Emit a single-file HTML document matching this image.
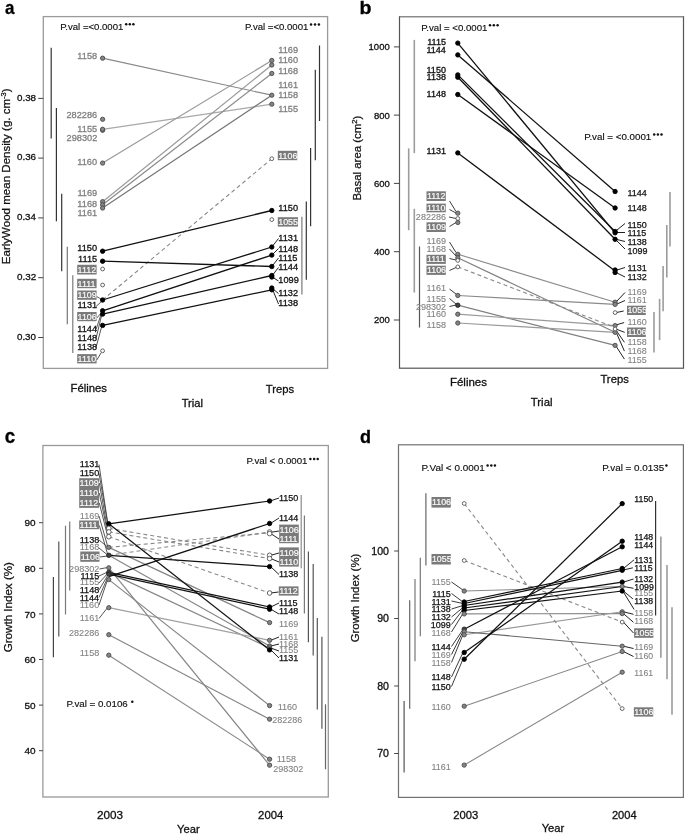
<!DOCTYPE html>
<html><head><meta charset="utf-8"><style>
html,body{margin:0;padding:0;background:#fff;}
svg{display:block;font-family:"Liberation Sans",sans-serif;will-change:transform;}
</style></head><body>
<svg width="685" height="834" viewBox="0 0 685 834">
<rect width="685" height="834" fill="#fff"/>
<text x="4.89" y="13.70" font-size="19" fill="#000" stroke="#000" stroke-width="0.3" font-weight="bold" textLength="9.46" lengthAdjust="spacingAndGlyphs">a</text>
<rect x="43.30" y="16.60" width="284.30" height="351.80" fill="none" stroke="#9a9a9a" stroke-width="1.3"/>
<line x1="38.20" y1="98.40" x2="43.30" y2="98.40" stroke="#444" stroke-width="1.0"/>
<text x="16.96" y="100.70" font-size="9.6" fill="#111" stroke="#111" stroke-width="0.3" textLength="19.10" lengthAdjust="spacingAndGlyphs">0.38</text>
<line x1="38.20" y1="158.10" x2="43.30" y2="158.10" stroke="#444" stroke-width="1.0"/>
<text x="16.96" y="160.40" font-size="9.6" fill="#111" stroke="#111" stroke-width="0.3" textLength="19.10" lengthAdjust="spacingAndGlyphs">0.36</text>
<line x1="38.20" y1="217.90" x2="43.30" y2="217.90" stroke="#444" stroke-width="1.0"/>
<text x="16.96" y="220.20" font-size="9.6" fill="#111" stroke="#111" stroke-width="0.3" textLength="19.00" lengthAdjust="spacingAndGlyphs">0.34</text>
<line x1="38.20" y1="277.70" x2="43.30" y2="277.70" stroke="#444" stroke-width="1.0"/>
<text x="16.96" y="280.00" font-size="9.6" fill="#111" stroke="#111" stroke-width="0.3" textLength="19.20" lengthAdjust="spacingAndGlyphs">0.32</text>
<line x1="38.20" y1="337.50" x2="43.30" y2="337.50" stroke="#444" stroke-width="1.0"/>
<text x="16.96" y="339.80" font-size="9.6" fill="#111" stroke="#111" stroke-width="0.3" textLength="19.05" lengthAdjust="spacingAndGlyphs">0.30</text>
<text transform="translate(9.8,176.3) rotate(-90)" text-anchor="middle" font-size="11.55" fill="#111" stroke="#111" stroke-width="0.25">EarlyWood mean Density (g. cm<tspan font-size="7.5" dy="-4">-3</tspan><tspan dy="4">)</tspan></text>
<text x="60.18" y="29.50" font-size="9.3" fill="#111" stroke="#111" stroke-width="0.15" textLength="63.18" lengthAdjust="spacingAndGlyphs">P.val =&lt;0.0001</text>
<circle cx="126.20" cy="24.30" r="1.25" fill="#111"/>
<circle cx="129.80" cy="24.30" r="1.25" fill="#111"/>
<circle cx="133.40" cy="24.30" r="1.25" fill="#111"/>
<text x="245.08" y="29.60" font-size="9.3" fill="#111" stroke="#111" stroke-width="0.15" textLength="63.29" lengthAdjust="spacingAndGlyphs">P.val =&lt;0.0001</text>
<circle cx="311.00" cy="24.40" r="1.25" fill="#111"/>
<circle cx="315.00" cy="24.40" r="1.25" fill="#111"/>
<circle cx="318.90" cy="24.40" r="1.25" fill="#111"/>
<text x="70.54" y="392.30" font-size="11.3" fill="#111" stroke="#111" stroke-width="0.3" textLength="36.49" lengthAdjust="spacingAndGlyphs">Félines</text>
<text x="265.73" y="393.10" font-size="11.3" fill="#111" stroke="#111" stroke-width="0.3" textLength="28.31" lengthAdjust="spacingAndGlyphs">Treps</text>
<text x="181.63" y="407.00" font-size="11.3" fill="#111" stroke="#111" stroke-width="0.3" textLength="21.27" lengthAdjust="spacingAndGlyphs">Trial</text>
<line x1="51.20" y1="47.70" x2="51.20" y2="138.40" stroke="#333" stroke-width="1.2"/>
<line x1="56.40" y1="108.00" x2="56.40" y2="221.30" stroke="#333" stroke-width="1.2"/>
<line x1="61.70" y1="193.70" x2="61.70" y2="271.30" stroke="#333" stroke-width="1.2"/>
<line x1="67.30" y1="246.70" x2="67.30" y2="324.20" stroke="#777" stroke-width="1.2"/>
<line x1="72.80" y1="275.20" x2="72.80" y2="353.00" stroke="#7a7a7a" stroke-width="1.2"/>
<line x1="319.50" y1="45.50" x2="319.50" y2="121.00" stroke="#333" stroke-width="1.2"/>
<line x1="315.30" y1="69.80" x2="315.30" y2="160.20" stroke="#333" stroke-width="1.2"/>
<line x1="310.60" y1="148.10" x2="310.60" y2="226.30" stroke="#333" stroke-width="1.2"/>
<line x1="306.30" y1="201.60" x2="306.30" y2="279.70" stroke="#333" stroke-width="1.2"/>
<line x1="301.90" y1="216.80" x2="301.90" y2="294.50" stroke="#7a7a7a" stroke-width="1.2"/>
<line x1="102.60" y1="58.20" x2="271.80" y2="95.20" stroke="#8a8a8a" stroke-width="1.2"/>
<line x1="102.60" y1="129.30" x2="271.80" y2="104.20" stroke="#a8a8a8" stroke-width="1.2"/>
<line x1="102.60" y1="163.10" x2="271.80" y2="60.50" stroke="#999" stroke-width="1.2"/>
<line x1="102.60" y1="201.70" x2="271.80" y2="65.00" stroke="#9a9a9a" stroke-width="1.2"/>
<line x1="102.60" y1="204.80" x2="271.80" y2="73.50" stroke="#8a8a8a" stroke-width="1.2"/>
<line x1="102.60" y1="208.00" x2="271.80" y2="95.20" stroke="#777" stroke-width="1.2"/>
<line x1="102.60" y1="300.00" x2="271.80" y2="158.70" stroke="#888" stroke-width="1.1" stroke-dasharray="4,3"/>
<line x1="102.60" y1="251.20" x2="271.80" y2="210.50" stroke="#111" stroke-width="1.3"/>
<line x1="102.60" y1="261.20" x2="271.80" y2="266.50" stroke="#111" stroke-width="1.3"/>
<line x1="102.60" y1="300.00" x2="271.80" y2="247.00" stroke="#111" stroke-width="1.3"/>
<line x1="102.60" y1="310.80" x2="271.80" y2="255.10" stroke="#111" stroke-width="1.3"/>
<line x1="102.60" y1="314.10" x2="271.80" y2="275.50" stroke="#111" stroke-width="1.3"/>
<line x1="102.60" y1="325.40" x2="271.80" y2="289.80" stroke="#111" stroke-width="1.3"/>
<line x1="96.80" y1="296.50" x2="101.50" y2="299.50" stroke="#444" stroke-width="0.9"/>
<line x1="96.00" y1="306.50" x2="101.50" y2="301.50" stroke="#444" stroke-width="0.9"/>
<line x1="96.80" y1="318.00" x2="101.50" y2="312.50" stroke="#444" stroke-width="0.9"/>
<line x1="96.00" y1="329.50" x2="101.70" y2="312.50" stroke="#444" stroke-width="0.9"/>
<line x1="96.00" y1="338.50" x2="101.70" y2="315.00" stroke="#444" stroke-width="0.9"/>
<line x1="96.00" y1="347.50" x2="101.70" y2="326.50" stroke="#444" stroke-width="0.9"/>
<line x1="96.80" y1="360.00" x2="101.30" y2="352.50" stroke="#444" stroke-width="0.9"/>
<line x1="273.00" y1="245.50" x2="278.50" y2="238.50" stroke="#222" stroke-width="1.0"/>
<line x1="273.00" y1="254.00" x2="278.50" y2="248.50" stroke="#222" stroke-width="1.0"/>
<line x1="273.00" y1="265.00" x2="278.50" y2="258.00" stroke="#222" stroke-width="1.0"/>
<line x1="273.00" y1="274.50" x2="278.50" y2="267.50" stroke="#222" stroke-width="1.0"/>
<line x1="273.00" y1="277.50" x2="278.50" y2="281.00" stroke="#222" stroke-width="1.0"/>
<line x1="273.00" y1="289.00" x2="278.50" y2="293.50" stroke="#222" stroke-width="1.0"/>
<line x1="273.00" y1="290.50" x2="278.50" y2="304.00" stroke="#222" stroke-width="1.0"/>
<circle cx="102.60" cy="58.20" r="2.15" fill="#858585" stroke="#4a4a4a" stroke-width="0.9"/>
<circle cx="102.60" cy="119.30" r="2.15" fill="#858585" stroke="#4a4a4a" stroke-width="0.9"/>
<circle cx="102.60" cy="130.30" r="2.15" fill="#858585" stroke="#4a4a4a" stroke-width="0.9"/>
<circle cx="102.60" cy="129.30" r="2.15" fill="#858585" stroke="#4a4a4a" stroke-width="0.9"/>
<circle cx="102.60" cy="163.10" r="2.15" fill="#858585" stroke="#4a4a4a" stroke-width="0.9"/>
<circle cx="102.60" cy="201.70" r="2.15" fill="#858585" stroke="#4a4a4a" stroke-width="0.9"/>
<circle cx="102.60" cy="204.80" r="2.15" fill="#858585" stroke="#4a4a4a" stroke-width="0.9"/>
<circle cx="102.60" cy="208.00" r="2.15" fill="#858585" stroke="#4a4a4a" stroke-width="0.9"/>
<circle cx="102.60" cy="251.20" r="2.2" fill="#000" stroke="#000" stroke-width="0.9"/>
<circle cx="102.60" cy="261.20" r="2.2" fill="#000" stroke="#000" stroke-width="0.9"/>
<circle cx="102.60" cy="269.00" r="1.9" fill="#fff" stroke="#555" stroke-width="0.9"/>
<circle cx="102.60" cy="285.00" r="1.9" fill="#fff" stroke="#555" stroke-width="0.9"/>
<circle cx="102.60" cy="300.00" r="2.2" fill="#000" stroke="#000" stroke-width="0.9"/>
<circle cx="102.60" cy="310.80" r="2.2" fill="#000" stroke="#000" stroke-width="0.9"/>
<circle cx="102.60" cy="314.10" r="2.2" fill="#000" stroke="#000" stroke-width="0.9"/>
<circle cx="102.60" cy="325.40" r="2.2" fill="#000" stroke="#000" stroke-width="0.9"/>
<circle cx="102.60" cy="350.80" r="1.9" fill="#fff" stroke="#555" stroke-width="0.9"/>
<circle cx="271.80" cy="60.50" r="2.15" fill="#858585" stroke="#4a4a4a" stroke-width="0.9"/>
<circle cx="271.80" cy="65.00" r="2.15" fill="#858585" stroke="#4a4a4a" stroke-width="0.9"/>
<circle cx="271.80" cy="73.50" r="2.15" fill="#858585" stroke="#4a4a4a" stroke-width="0.9"/>
<circle cx="271.80" cy="95.20" r="2.15" fill="#858585" stroke="#4a4a4a" stroke-width="0.9"/>
<circle cx="271.80" cy="104.20" r="2.15" fill="#858585" stroke="#4a4a4a" stroke-width="0.9"/>
<circle cx="271.80" cy="158.70" r="1.9" fill="#fff" stroke="#555" stroke-width="0.9"/>
<circle cx="271.80" cy="210.50" r="2.2" fill="#000" stroke="#000" stroke-width="0.9"/>
<circle cx="271.80" cy="219.60" r="1.9" fill="#fff" stroke="#555" stroke-width="0.9"/>
<circle cx="271.80" cy="247.00" r="2.2" fill="#000" stroke="#000" stroke-width="0.9"/>
<circle cx="271.80" cy="255.10" r="2.2" fill="#000" stroke="#000" stroke-width="0.9"/>
<circle cx="271.80" cy="266.50" r="2.2" fill="#000" stroke="#000" stroke-width="0.9"/>
<circle cx="271.80" cy="275.50" r="2.2" fill="#000" stroke="#000" stroke-width="0.9"/>
<circle cx="271.80" cy="277.00" r="2.2" fill="#000" stroke="#000" stroke-width="0.9"/>
<circle cx="271.80" cy="288.00" r="2.2" fill="#000" stroke="#000" stroke-width="0.9"/>
<circle cx="271.80" cy="289.80" r="2.2" fill="#000" stroke="#000" stroke-width="0.9"/>
<text x="77.39" y="58.90" font-size="9.2" fill="#808080" stroke="#808080" stroke-width="0.3" textLength="19.78" lengthAdjust="spacingAndGlyphs">1158</text>
<text x="66.49" y="117.80" font-size="9.2" fill="#808080" stroke="#808080" stroke-width="0.3" textLength="30.70" lengthAdjust="spacingAndGlyphs">282286</text>
<text x="77.39" y="131.80" font-size="9.2" fill="#808080" stroke="#808080" stroke-width="0.3" textLength="19.78" lengthAdjust="spacingAndGlyphs">1155</text>
<text x="66.58" y="141.40" font-size="9.2" fill="#808080" stroke="#808080" stroke-width="0.3" textLength="30.70" lengthAdjust="spacingAndGlyphs">298302</text>
<text x="77.34" y="165.20" font-size="9.2" fill="#808080" stroke="#808080" stroke-width="0.3" textLength="19.78" lengthAdjust="spacingAndGlyphs">1160</text>
<text x="77.43" y="195.60" font-size="9.2" fill="#808080" stroke="#808080" stroke-width="0.3" textLength="19.78" lengthAdjust="spacingAndGlyphs">1169</text>
<text x="77.39" y="206.60" font-size="9.2" fill="#808080" stroke="#808080" stroke-width="0.3" textLength="19.78" lengthAdjust="spacingAndGlyphs">1168</text>
<text x="77.43" y="216.00" font-size="9.2" fill="#808080" stroke="#808080" stroke-width="0.3" textLength="19.78" lengthAdjust="spacingAndGlyphs">1161</text>
<text x="77.34" y="250.70" font-size="9.2" fill="#111" stroke="#111" stroke-width="0.3" textLength="19.78" lengthAdjust="spacingAndGlyphs">1150</text>
<text x="78.08" y="262.40" font-size="9.2" fill="#111" stroke="#111" stroke-width="0.3" textLength="19.10" lengthAdjust="spacingAndGlyphs">1115</text>
<text x="77.43" y="307.80" font-size="9.2" fill="#111" stroke="#111" stroke-width="0.3" textLength="19.78" lengthAdjust="spacingAndGlyphs">1131</text>
<text x="77.30" y="331.80" font-size="9.2" fill="#111" stroke="#111" stroke-width="0.3" textLength="19.78" lengthAdjust="spacingAndGlyphs">1144</text>
<text x="77.39" y="340.90" font-size="9.2" fill="#111" stroke="#111" stroke-width="0.3" textLength="19.78" lengthAdjust="spacingAndGlyphs">1148</text>
<text x="77.39" y="350.20" font-size="9.2" fill="#111" stroke="#111" stroke-width="0.3" textLength="19.78" lengthAdjust="spacingAndGlyphs">1138</text>
<rect x="77.20" y="264.80" width="19.40" height="9.70" fill="#7a7a7a"/>
<text x="77.63" y="272.71" font-size="8.9" fill="#fafafa" stroke="#fafafa" stroke-width="0.2" textLength="18.48" lengthAdjust="spacingAndGlyphs">1112</text>
<rect x="77.20" y="278.80" width="19.40" height="9.40" fill="#7a7a7a"/>
<text x="77.63" y="286.56" font-size="8.9" fill="#fafafa" stroke="#fafafa" stroke-width="0.2" textLength="17.82" lengthAdjust="spacingAndGlyphs">1111</text>
<rect x="77.20" y="290.50" width="19.40" height="9.30" fill="#7a7a7a"/>
<text x="77.63" y="298.21" font-size="8.9" fill="#fafafa" stroke="#fafafa" stroke-width="0.2" textLength="19.14" lengthAdjust="spacingAndGlyphs">1109</text>
<rect x="77.20" y="312.00" width="19.40" height="9.20" fill="#7a7a7a"/>
<text x="77.63" y="319.66" font-size="8.9" fill="#fafafa" stroke="#fafafa" stroke-width="0.2" textLength="19.14" lengthAdjust="spacingAndGlyphs">1106</text>
<rect x="77.20" y="354.10" width="19.40" height="9.30" fill="#7a7a7a"/>
<text x="77.63" y="361.81" font-size="8.9" fill="#fafafa" stroke="#fafafa" stroke-width="0.2" textLength="18.48" lengthAdjust="spacingAndGlyphs">1110</text>
<text x="278.31" y="52.60" font-size="9.2" fill="#808080" stroke="#808080" stroke-width="0.3" textLength="19.78" lengthAdjust="spacingAndGlyphs">1169</text>
<text x="278.31" y="63.40" font-size="9.2" fill="#808080" stroke="#808080" stroke-width="0.3" textLength="19.78" lengthAdjust="spacingAndGlyphs">1160</text>
<text x="278.31" y="73.60" font-size="9.2" fill="#808080" stroke="#808080" stroke-width="0.3" textLength="19.78" lengthAdjust="spacingAndGlyphs">1168</text>
<text x="278.31" y="87.90" font-size="9.2" fill="#808080" stroke="#808080" stroke-width="0.3" textLength="19.78" lengthAdjust="spacingAndGlyphs">1161</text>
<text x="278.31" y="98.00" font-size="9.2" fill="#808080" stroke="#808080" stroke-width="0.3" textLength="19.78" lengthAdjust="spacingAndGlyphs">1158</text>
<text x="278.31" y="111.50" font-size="9.2" fill="#808080" stroke="#808080" stroke-width="0.3" textLength="19.78" lengthAdjust="spacingAndGlyphs">1155</text>
<text x="278.31" y="211.10" font-size="9.2" fill="#111" stroke="#111" stroke-width="0.3" textLength="19.78" lengthAdjust="spacingAndGlyphs">1150</text>
<text x="278.31" y="240.80" font-size="9.2" fill="#111" stroke="#111" stroke-width="0.3" textLength="19.78" lengthAdjust="spacingAndGlyphs">1131</text>
<text x="278.31" y="251.80" font-size="9.2" fill="#111" stroke="#111" stroke-width="0.3" textLength="19.78" lengthAdjust="spacingAndGlyphs">1148</text>
<text x="278.31" y="260.90" font-size="9.2" fill="#111" stroke="#111" stroke-width="0.3" textLength="19.10" lengthAdjust="spacingAndGlyphs">1115</text>
<text x="278.31" y="270.20" font-size="9.2" fill="#111" stroke="#111" stroke-width="0.3" textLength="19.78" lengthAdjust="spacingAndGlyphs">1144</text>
<text x="278.31" y="282.80" font-size="9.2" fill="#111" stroke="#111" stroke-width="0.3" textLength="20.47" lengthAdjust="spacingAndGlyphs">1099</text>
<text x="278.31" y="295.50" font-size="9.2" fill="#111" stroke="#111" stroke-width="0.3" textLength="19.78" lengthAdjust="spacingAndGlyphs">1132</text>
<text x="278.31" y="306.30" font-size="9.2" fill="#111" stroke="#111" stroke-width="0.3" textLength="19.78" lengthAdjust="spacingAndGlyphs">1138</text>
<rect x="277.80" y="150.80" width="19.40" height="9.40" fill="#7a7a7a"/>
<text x="278.23" y="158.56" font-size="8.9" fill="#fafafa" stroke="#fafafa" stroke-width="0.2" textLength="19.14" lengthAdjust="spacingAndGlyphs">1106</text>
<rect x="277.80" y="217.20" width="20.20" height="9.40" fill="#7a7a7a"/>
<text x="278.23" y="224.96" font-size="8.9" fill="#fafafa" stroke="#fafafa" stroke-width="0.2" textLength="19.80" lengthAdjust="spacingAndGlyphs">1055</text>
<text x="359.53" y="13.70" font-size="19" fill="#000" stroke="#000" stroke-width="0.3" font-weight="bold" textLength="11.98" lengthAdjust="spacingAndGlyphs">b</text>
<rect x="399.50" y="16.60" width="284.00" height="351.60" fill="none" stroke="#555" stroke-width="1.2"/>
<line x1="399.50" y1="16.60" x2="683.50" y2="16.60" stroke="#8a8a8a" stroke-width="1.2"/>
<line x1="393.90" y1="46.90" x2="399.50" y2="46.90" stroke="#444" stroke-width="1.0"/>
<text x="368.60" y="50.30" font-size="9.5" fill="#111" stroke="#111" stroke-width="0.3" textLength="21.13" lengthAdjust="spacingAndGlyphs">1000</text>
<line x1="393.90" y1="115.10" x2="399.50" y2="115.10" stroke="#444" stroke-width="1.0"/>
<text x="373.91" y="118.50" font-size="9.5" fill="#111" stroke="#111" stroke-width="0.3" textLength="15.85" lengthAdjust="spacingAndGlyphs">800</text>
<line x1="393.90" y1="183.40" x2="399.50" y2="183.40" stroke="#444" stroke-width="1.0"/>
<text x="373.91" y="186.80" font-size="9.5" fill="#111" stroke="#111" stroke-width="0.3" textLength="15.85" lengthAdjust="spacingAndGlyphs">600</text>
<line x1="393.90" y1="251.70" x2="399.50" y2="251.70" stroke="#444" stroke-width="1.0"/>
<text x="373.91" y="255.10" font-size="9.5" fill="#111" stroke="#111" stroke-width="0.3" textLength="15.85" lengthAdjust="spacingAndGlyphs">400</text>
<line x1="393.90" y1="320.00" x2="399.50" y2="320.00" stroke="#444" stroke-width="1.0"/>
<text x="373.91" y="323.40" font-size="9.5" fill="#111" stroke="#111" stroke-width="0.3" textLength="15.85" lengthAdjust="spacingAndGlyphs">200</text>
<text transform="translate(361.4,158.1) rotate(-90)" text-anchor="middle" font-size="11.45" fill="#111" stroke="#111" stroke-width="0.25">Basal area (cm<tspan font-size="7.5" dy="-4">2</tspan><tspan dy="4">)</tspan></text>
<text x="421.18" y="30.50" font-size="9.3" fill="#111" stroke="#111" stroke-width="0.15" textLength="66.22" lengthAdjust="spacingAndGlyphs">P.val = &lt;0.0001</text>
<circle cx="490.00" cy="25.30" r="1.25" fill="#111"/>
<circle cx="493.80" cy="25.30" r="1.25" fill="#111"/>
<circle cx="497.60" cy="25.30" r="1.25" fill="#111"/>
<text x="584.17" y="139.60" font-size="9.3" fill="#111" stroke="#111" stroke-width="0.15" textLength="67.14" lengthAdjust="spacingAndGlyphs">P.val = &lt;0.0001</text>
<circle cx="654.20" cy="134.40" r="1.25" fill="#111"/>
<circle cx="657.90" cy="134.40" r="1.25" fill="#111"/>
<circle cx="661.50" cy="134.40" r="1.25" fill="#111"/>
<text x="449.93" y="385.50" font-size="11.3" fill="#111" stroke="#111" stroke-width="0.3" textLength="37.11" lengthAdjust="spacingAndGlyphs">Félines</text>
<text x="600.42" y="382.90" font-size="11.3" fill="#111" stroke="#111" stroke-width="0.3" textLength="28.41" lengthAdjust="spacingAndGlyphs">Treps</text>
<text x="530.82" y="406.20" font-size="11.3" fill="#111" stroke="#111" stroke-width="0.3" textLength="21.69" lengthAdjust="spacingAndGlyphs">Trial</text>
<line x1="414.30" y1="39.90" x2="414.30" y2="153.10" stroke="#9c9c9c" stroke-width="1.6"/>
<line x1="408.70" y1="148.40" x2="408.70" y2="230.20" stroke="#9c9c9c" stroke-width="1.6"/>
<line x1="414.30" y1="208.80" x2="414.30" y2="292.50" stroke="#9c9c9c" stroke-width="1.6"/>
<line x1="419.50" y1="246.50" x2="419.50" y2="327.50" stroke="#555" stroke-width="1.2"/>
<line x1="670.00" y1="192.10" x2="670.00" y2="246.40" stroke="#9c9c9c" stroke-width="1.6"/>
<line x1="666.80" y1="225.00" x2="666.80" y2="277.40" stroke="#9c9c9c" stroke-width="1.6"/>
<line x1="663.10" y1="266.10" x2="663.10" y2="311.30" stroke="#9c9c9c" stroke-width="1.6"/>
<line x1="659.60" y1="298.90" x2="659.60" y2="340.10" stroke="#9c9c9c" stroke-width="1.6"/>
<line x1="654.00" y1="312.00" x2="654.00" y2="352.60" stroke="#9c9c9c" stroke-width="1.6"/>
<line x1="457.80" y1="43.10" x2="615.10" y2="232.80" stroke="#111" stroke-width="1.3"/>
<line x1="457.80" y1="54.90" x2="615.10" y2="191.50" stroke="#111" stroke-width="1.3"/>
<line x1="457.80" y1="74.90" x2="615.10" y2="231.50" stroke="#111" stroke-width="1.3"/>
<line x1="457.80" y1="77.20" x2="615.10" y2="239.30" stroke="#111" stroke-width="1.3"/>
<line x1="457.80" y1="94.50" x2="615.10" y2="208.00" stroke="#111" stroke-width="1.3"/>
<line x1="457.80" y1="152.90" x2="615.10" y2="271.00" stroke="#111" stroke-width="1.3"/>
<line x1="457.80" y1="254.30" x2="615.10" y2="302.20" stroke="#8a8a8a" stroke-width="1.2"/>
<line x1="457.80" y1="257.80" x2="615.10" y2="332.30" stroke="#808080" stroke-width="1.2"/>
<line x1="457.80" y1="295.50" x2="615.10" y2="304.40" stroke="#8a8a8a" stroke-width="1.2"/>
<line x1="457.80" y1="305.20" x2="615.10" y2="345.40" stroke="#808080" stroke-width="1.2"/>
<line x1="457.80" y1="314.20" x2="615.10" y2="325.60" stroke="#999" stroke-width="1.2"/>
<line x1="457.80" y1="323.00" x2="615.10" y2="332.30" stroke="#999" stroke-width="1.2"/>
<line x1="457.80" y1="266.90" x2="615.10" y2="327.50" stroke="#888" stroke-width="1.1" stroke-dasharray="4,3"/>
<line x1="449.50" y1="201.00" x2="456.00" y2="211.50" stroke="#333" stroke-width="0.95"/>
<line x1="449.50" y1="209.50" x2="456.00" y2="213.00" stroke="#333" stroke-width="0.95"/>
<line x1="449.00" y1="217.00" x2="456.00" y2="218.50" stroke="#333" stroke-width="0.95"/>
<line x1="449.50" y1="226.50" x2="456.00" y2="222.50" stroke="#333" stroke-width="0.95"/>
<line x1="449.50" y1="242.00" x2="456.00" y2="252.50" stroke="#333" stroke-width="0.95"/>
<line x1="449.50" y1="249.00" x2="456.00" y2="256.00" stroke="#333" stroke-width="0.95"/>
<line x1="449.50" y1="258.50" x2="456.00" y2="260.00" stroke="#333" stroke-width="0.95"/>
<line x1="449.50" y1="270.50" x2="456.00" y2="267.50" stroke="#333" stroke-width="0.95"/>
<line x1="449.50" y1="289.00" x2="456.00" y2="294.00" stroke="#333" stroke-width="0.95"/>
<line x1="449.50" y1="298.50" x2="456.00" y2="304.00" stroke="#333" stroke-width="0.95"/>
<line x1="449.50" y1="306.50" x2="456.00" y2="305.00" stroke="#333" stroke-width="0.95"/>
<line x1="617.00" y1="230.00" x2="625.00" y2="223.50" stroke="#222" stroke-width="1.0"/>
<line x1="617.00" y1="232.50" x2="625.00" y2="232.50" stroke="#222" stroke-width="1.0"/>
<line x1="617.00" y1="239.50" x2="625.00" y2="241.50" stroke="#222" stroke-width="1.0"/>
<line x1="617.00" y1="241.00" x2="625.00" y2="249.00" stroke="#222" stroke-width="1.0"/>
<line x1="617.00" y1="270.00" x2="625.00" y2="267.50" stroke="#222" stroke-width="1.0"/>
<line x1="617.00" y1="273.00" x2="625.00" y2="277.00" stroke="#222" stroke-width="1.0"/>
<line x1="617.00" y1="301.00" x2="625.00" y2="292.50" stroke="#222" stroke-width="1.0"/>
<line x1="617.00" y1="304.00" x2="625.00" y2="300.50" stroke="#222" stroke-width="1.0"/>
<line x1="617.00" y1="312.40" x2="623.70" y2="311.00" stroke="#222" stroke-width="1.0"/>
<line x1="616.40" y1="324.80" x2="624.10" y2="322.60" stroke="#222" stroke-width="1.0"/>
<line x1="616.40" y1="329.20" x2="624.70" y2="332.40" stroke="#222" stroke-width="1.0"/>
<line x1="616.40" y1="330.70" x2="624.40" y2="342.30" stroke="#222" stroke-width="1.0"/>
<line x1="616.40" y1="332.80" x2="624.40" y2="351.10" stroke="#222" stroke-width="1.0"/>
<line x1="615.50" y1="345.30" x2="624.40" y2="359.10" stroke="#222" stroke-width="1.0"/>
<circle cx="457.80" cy="43.10" r="2.2" fill="#000" stroke="#000" stroke-width="0.9"/>
<circle cx="457.80" cy="54.90" r="2.2" fill="#000" stroke="#000" stroke-width="0.9"/>
<circle cx="457.80" cy="74.90" r="2.2" fill="#000" stroke="#000" stroke-width="0.9"/>
<circle cx="457.80" cy="77.20" r="2.2" fill="#000" stroke="#000" stroke-width="0.9"/>
<circle cx="457.80" cy="94.50" r="2.2" fill="#000" stroke="#000" stroke-width="0.9"/>
<circle cx="457.80" cy="152.90" r="2.2" fill="#000" stroke="#000" stroke-width="0.9"/>
<circle cx="457.80" cy="213.20" r="2.15" fill="#858585" stroke="#4a4a4a" stroke-width="0.9"/>
<circle cx="457.80" cy="218.50" r="1.9" fill="#fff" stroke="#555" stroke-width="0.9"/>
<circle cx="457.80" cy="222.50" r="2.15" fill="#858585" stroke="#4a4a4a" stroke-width="0.9"/>
<circle cx="457.80" cy="254.30" r="2.15" fill="#858585" stroke="#4a4a4a" stroke-width="0.9"/>
<circle cx="457.80" cy="257.80" r="2.15" fill="#858585" stroke="#4a4a4a" stroke-width="0.9"/>
<circle cx="457.80" cy="260.40" r="1.9" fill="#fff" stroke="#555" stroke-width="0.9"/>
<circle cx="457.80" cy="266.90" r="1.9" fill="#fff" stroke="#555" stroke-width="0.9"/>
<circle cx="457.80" cy="295.50" r="2.15" fill="#858585" stroke="#4a4a4a" stroke-width="0.9"/>
<circle cx="457.80" cy="305.20" r="2.2" fill="#444" stroke="#222" stroke-width="0.9"/>
<circle cx="457.80" cy="314.20" r="2.15" fill="#858585" stroke="#4a4a4a" stroke-width="0.9"/>
<circle cx="457.80" cy="323.00" r="2.15" fill="#858585" stroke="#4a4a4a" stroke-width="0.9"/>
<circle cx="615.10" cy="191.50" r="2.2" fill="#000" stroke="#000" stroke-width="0.9"/>
<circle cx="615.10" cy="208.00" r="2.2" fill="#000" stroke="#000" stroke-width="0.9"/>
<circle cx="615.10" cy="231.50" r="2.2" fill="#000" stroke="#000" stroke-width="0.9"/>
<circle cx="615.10" cy="232.80" r="2.2" fill="#000" stroke="#000" stroke-width="0.9"/>
<circle cx="615.10" cy="239.30" r="2.2" fill="#000" stroke="#000" stroke-width="0.9"/>
<circle cx="615.10" cy="270.00" r="2.2" fill="#000" stroke="#000" stroke-width="0.9"/>
<circle cx="615.10" cy="272.50" r="2.2" fill="#000" stroke="#000" stroke-width="0.9"/>
<circle cx="615.10" cy="302.20" r="2.15" fill="#858585" stroke="#4a4a4a" stroke-width="0.9"/>
<circle cx="615.10" cy="304.40" r="2.15" fill="#858585" stroke="#4a4a4a" stroke-width="0.9"/>
<circle cx="615.10" cy="312.60" r="1.9" fill="#fff" stroke="#555" stroke-width="0.9"/>
<circle cx="615.10" cy="325.60" r="2.15" fill="#858585" stroke="#4a4a4a" stroke-width="0.9"/>
<circle cx="615.10" cy="332.30" r="2.15" fill="#858585" stroke="#4a4a4a" stroke-width="0.9"/>
<circle cx="615.10" cy="329.00" r="1.9" fill="#fff" stroke="#555" stroke-width="0.9"/>
<circle cx="615.10" cy="345.40" r="2.15" fill="#858585" stroke="#4a4a4a" stroke-width="0.9"/>
<text x="427.24" y="45.10" font-size="8.2" fill="#111" stroke="#111" stroke-width="0.3" textLength="18.73" lengthAdjust="spacingAndGlyphs">1115</text>
<text x="426.48" y="52.70" font-size="8.2" fill="#111" stroke="#111" stroke-width="0.3" textLength="19.40" lengthAdjust="spacingAndGlyphs">1144</text>
<text x="426.52" y="72.50" font-size="8.2" fill="#111" stroke="#111" stroke-width="0.3" textLength="19.40" lengthAdjust="spacingAndGlyphs">1150</text>
<text x="426.57" y="79.50" font-size="8.2" fill="#111" stroke="#111" stroke-width="0.3" textLength="19.40" lengthAdjust="spacingAndGlyphs">1138</text>
<text x="426.57" y="96.50" font-size="8.2" fill="#111" stroke="#111" stroke-width="0.3" textLength="19.40" lengthAdjust="spacingAndGlyphs">1148</text>
<text x="426.61" y="154.00" font-size="8.2" fill="#111" stroke="#111" stroke-width="0.3" textLength="19.40" lengthAdjust="spacingAndGlyphs">1131</text>
<text x="415.88" y="219.90" font-size="8.2" fill="#808080" stroke="#808080" stroke-width="0.1" textLength="30.10" lengthAdjust="spacingAndGlyphs">282286</text>
<text x="426.61" y="244.10" font-size="8.2" fill="#808080" stroke="#808080" stroke-width="0.1" textLength="19.40" lengthAdjust="spacingAndGlyphs">1169</text>
<text x="426.57" y="252.20" font-size="8.2" fill="#808080" stroke="#808080" stroke-width="0.1" textLength="19.40" lengthAdjust="spacingAndGlyphs">1168</text>
<text x="426.61" y="291.10" font-size="8.2" fill="#808080" stroke="#808080" stroke-width="0.1" textLength="19.40" lengthAdjust="spacingAndGlyphs">1161</text>
<text x="426.57" y="301.60" font-size="8.2" fill="#808080" stroke="#808080" stroke-width="0.1" textLength="19.40" lengthAdjust="spacingAndGlyphs">1155</text>
<text x="415.97" y="309.50" font-size="8.2" fill="#808080" stroke="#808080" stroke-width="0.1" textLength="30.10" lengthAdjust="spacingAndGlyphs">298302</text>
<text x="426.52" y="317.30" font-size="8.2" fill="#808080" stroke="#808080" stroke-width="0.1" textLength="19.40" lengthAdjust="spacingAndGlyphs">1160</text>
<text x="426.57" y="327.50" font-size="8.2" fill="#808080" stroke="#808080" stroke-width="0.1" textLength="19.40" lengthAdjust="spacingAndGlyphs">1158</text>
<rect x="426.50" y="191.30" width="19.30" height="9.70" fill="#7a7a7a"/>
<text x="426.93" y="199.21" font-size="8.9" fill="#fafafa" stroke="#fafafa" stroke-width="0.2" textLength="18.48" lengthAdjust="spacingAndGlyphs">1112</text>
<rect x="426.50" y="203.60" width="19.30" height="8.70" fill="#7a7a7a"/>
<text x="426.93" y="211.01" font-size="8.9" fill="#fafafa" stroke="#fafafa" stroke-width="0.2" textLength="18.48" lengthAdjust="spacingAndGlyphs">1110</text>
<rect x="426.50" y="222.30" width="19.30" height="9.70" fill="#7a7a7a"/>
<text x="426.93" y="230.21" font-size="8.9" fill="#fafafa" stroke="#fafafa" stroke-width="0.2" textLength="19.14" lengthAdjust="spacingAndGlyphs">1109</text>
<rect x="426.50" y="254.80" width="19.30" height="9.10" fill="#7a7a7a"/>
<text x="426.93" y="262.41" font-size="8.9" fill="#fafafa" stroke="#fafafa" stroke-width="0.2" textLength="17.82" lengthAdjust="spacingAndGlyphs">1111</text>
<rect x="426.50" y="265.70" width="19.30" height="9.20" fill="#7a7a7a"/>
<text x="426.93" y="273.36" font-size="8.9" fill="#fafafa" stroke="#fafafa" stroke-width="0.2" textLength="19.14" lengthAdjust="spacingAndGlyphs">1106</text>
<text x="627.53" y="196.10" font-size="8.7" fill="#111" stroke="#111" stroke-width="0.25" textLength="19.27" lengthAdjust="spacingAndGlyphs">1144</text>
<text x="627.53" y="211.30" font-size="8.7" fill="#111" stroke="#111" stroke-width="0.25" textLength="19.27" lengthAdjust="spacingAndGlyphs">1148</text>
<text x="627.53" y="227.80" font-size="8.7" fill="#111" stroke="#111" stroke-width="0.25" textLength="19.27" lengthAdjust="spacingAndGlyphs">1150</text>
<text x="627.53" y="236.00" font-size="8.7" fill="#111" stroke="#111" stroke-width="0.25" textLength="18.61" lengthAdjust="spacingAndGlyphs">1115</text>
<text x="627.53" y="244.60" font-size="8.7" fill="#111" stroke="#111" stroke-width="0.25" textLength="19.27" lengthAdjust="spacingAndGlyphs">1138</text>
<text x="627.53" y="254.20" font-size="8.7" fill="#111" stroke="#111" stroke-width="0.25" textLength="19.94" lengthAdjust="spacingAndGlyphs">1099</text>
<text x="627.53" y="270.70" font-size="8.7" fill="#111" stroke="#111" stroke-width="0.25" textLength="19.27" lengthAdjust="spacingAndGlyphs">1131</text>
<text x="627.53" y="280.10" font-size="8.7" fill="#111" stroke="#111" stroke-width="0.25" textLength="19.27" lengthAdjust="spacingAndGlyphs">1132</text>
<text x="627.53" y="294.90" font-size="8.7" fill="#808080" stroke="#808080" stroke-width="0.08" textLength="19.27" lengthAdjust="spacingAndGlyphs">1169</text>
<text x="627.53" y="303.00" font-size="8.7" fill="#808080" stroke="#808080" stroke-width="0.08" textLength="19.27" lengthAdjust="spacingAndGlyphs">1161</text>
<text x="627.53" y="325.20" font-size="8.7" fill="#808080" stroke="#808080" stroke-width="0.08" textLength="19.27" lengthAdjust="spacingAndGlyphs">1160</text>
<text x="627.53" y="345.30" font-size="8.7" fill="#808080" stroke="#808080" stroke-width="0.08" textLength="19.27" lengthAdjust="spacingAndGlyphs">1158</text>
<text x="627.53" y="354.30" font-size="8.7" fill="#808080" stroke="#808080" stroke-width="0.08" textLength="19.27" lengthAdjust="spacingAndGlyphs">1168</text>
<text x="627.53" y="363.10" font-size="8.7" fill="#808080" stroke="#808080" stroke-width="0.08" textLength="19.27" lengthAdjust="spacingAndGlyphs">1155</text>
<rect x="627.00" y="305.70" width="18.80" height="9.30" fill="#7a7a7a"/>
<text x="627.43" y="313.41" font-size="8.9" fill="#fafafa" stroke="#fafafa" stroke-width="0.2" textLength="19.80" lengthAdjust="spacingAndGlyphs">1055</text>
<rect x="627.00" y="327.50" width="18.80" height="9.50" fill="#7a7a7a"/>
<text x="627.43" y="335.31" font-size="8.9" fill="#fafafa" stroke="#fafafa" stroke-width="0.2" textLength="19.14" lengthAdjust="spacingAndGlyphs">1106</text>
<text x="4.85" y="443.30" font-size="19.5" fill="#000" stroke="#000" stroke-width="0.3" font-weight="bold" textLength="10.44" lengthAdjust="spacingAndGlyphs">c</text>
<rect x="42.90" y="445.50" width="285.40" height="351.50" fill="none" stroke="#999" stroke-width="1.3"/>
<line x1="39.00" y1="522.70" x2="42.90" y2="522.70" stroke="#444" stroke-width="1.0"/>
<text x="24.47" y="526.40" font-size="9.6" fill="#111" stroke="#111" stroke-width="0.3" textLength="11.11" lengthAdjust="spacingAndGlyphs">90</text>
<line x1="39.00" y1="568.30" x2="42.90" y2="568.30" stroke="#444" stroke-width="1.0"/>
<text x="24.47" y="572.00" font-size="9.6" fill="#111" stroke="#111" stroke-width="0.3" textLength="11.11" lengthAdjust="spacingAndGlyphs">80</text>
<line x1="39.00" y1="613.90" x2="42.90" y2="613.90" stroke="#444" stroke-width="1.0"/>
<text x="24.47" y="617.60" font-size="9.6" fill="#111" stroke="#111" stroke-width="0.3" textLength="11.11" lengthAdjust="spacingAndGlyphs">70</text>
<line x1="39.00" y1="659.50" x2="42.90" y2="659.50" stroke="#444" stroke-width="1.0"/>
<text x="24.47" y="663.20" font-size="9.6" fill="#111" stroke="#111" stroke-width="0.3" textLength="11.11" lengthAdjust="spacingAndGlyphs">60</text>
<line x1="39.00" y1="705.10" x2="42.90" y2="705.10" stroke="#444" stroke-width="1.0"/>
<text x="24.47" y="708.80" font-size="9.6" fill="#111" stroke="#111" stroke-width="0.3" textLength="11.11" lengthAdjust="spacingAndGlyphs">50</text>
<line x1="39.00" y1="750.70" x2="42.90" y2="750.70" stroke="#444" stroke-width="1.0"/>
<text x="24.47" y="754.40" font-size="9.6" fill="#111" stroke="#111" stroke-width="0.3" textLength="11.11" lengthAdjust="spacingAndGlyphs">40</text>
<text transform="translate(12.2,607.2) rotate(-90)" text-anchor="middle" font-size="11.6" fill="#111" stroke="#111" stroke-width="0.25">Growth Index (%)</text>
<text x="246.58" y="464.30" font-size="9.3" fill="#111" stroke="#111" stroke-width="0.15" textLength="60.94" lengthAdjust="spacingAndGlyphs">P.val &lt; 0.0001</text>
<circle cx="310.40" cy="459.10" r="1.25" fill="#111"/>
<circle cx="314.10" cy="459.10" r="1.25" fill="#111"/>
<circle cx="317.70" cy="459.10" r="1.25" fill="#111"/>
<text x="66.47" y="707.00" font-size="9.3" fill="#111" stroke="#111" stroke-width="0.15" textLength="61.29" lengthAdjust="spacingAndGlyphs">P.val = 0.0106</text>
<circle cx="132.30" cy="701.80" r="1.25" fill="#111"/>
<text x="96.96" y="819.00" font-size="11.3" fill="#111" stroke="#111" stroke-width="0.3" textLength="26.05" lengthAdjust="spacingAndGlyphs">2003</text>
<text x="258.08" y="818.80" font-size="11.3" fill="#111" stroke="#111" stroke-width="0.3" textLength="25.20" lengthAdjust="spacingAndGlyphs">2004</text>
<text x="177.07" y="832.50" font-size="11.3" fill="#111" stroke="#111" stroke-width="0.3" textLength="22.66" lengthAdjust="spacingAndGlyphs">Year</text>
<line x1="53.40" y1="577.10" x2="53.40" y2="657.30" stroke="#444" stroke-width="1.2"/>
<line x1="58.80" y1="541.60" x2="58.80" y2="636.60" stroke="#555" stroke-width="1.2"/>
<line x1="65.50" y1="525.70" x2="65.50" y2="614.50" stroke="#7a7a7a" stroke-width="1.2"/>
<line x1="69.70" y1="521.50" x2="69.70" y2="590.60" stroke="#7a7a7a" stroke-width="1.2"/>
<line x1="301.20" y1="495.00" x2="301.20" y2="568.20" stroke="#8a8a8a" stroke-width="1.2"/>
<line x1="304.40" y1="515.40" x2="304.40" y2="613.40" stroke="#7a7a7a" stroke-width="1.2"/>
<line x1="308.40" y1="551.40" x2="308.40" y2="642.30" stroke="#555" stroke-width="1.2"/>
<line x1="313.20" y1="564.00" x2="313.20" y2="655.40" stroke="#555" stroke-width="1.2"/>
<line x1="317.30" y1="618.00" x2="317.30" y2="709.60" stroke="#555" stroke-width="1.2"/>
<line x1="321.90" y1="636.70" x2="321.90" y2="728.70" stroke="#555" stroke-width="1.2"/>
<line x1="325.50" y1="704.30" x2="325.50" y2="769.30" stroke="#666" stroke-width="1.2"/>
<line x1="108.80" y1="547.40" x2="269.60" y2="622.60" stroke="#858585" stroke-width="1.2"/>
<line x1="108.80" y1="555.30" x2="269.60" y2="646.00" stroke="#858585" stroke-width="1.2"/>
<line x1="108.80" y1="572.40" x2="269.60" y2="648.00" stroke="#858585" stroke-width="1.2"/>
<line x1="108.80" y1="607.70" x2="269.60" y2="640.30" stroke="#a0a0a0" stroke-width="1.2"/>
<line x1="108.80" y1="579.60" x2="269.60" y2="705.60" stroke="#858585" stroke-width="1.2"/>
<line x1="108.80" y1="567.80" x2="269.60" y2="765.20" stroke="#858585" stroke-width="1.2"/>
<line x1="108.80" y1="634.70" x2="269.60" y2="719.20" stroke="#858585" stroke-width="1.2"/>
<line x1="108.80" y1="655.20" x2="269.60" y2="759.20" stroke="#8c8c8c" stroke-width="1.2"/>
<line x1="108.80" y1="528.40" x2="269.60" y2="555.30" stroke="#888" stroke-width="1.1" stroke-dasharray="4,3"/>
<line x1="108.80" y1="531.90" x2="269.60" y2="558.60" stroke="#888" stroke-width="1.1" stroke-dasharray="4,3"/>
<line x1="108.80" y1="536.70" x2="269.60" y2="593.00" stroke="#888" stroke-width="1.1" stroke-dasharray="4,3"/>
<line x1="108.80" y1="547.40" x2="269.60" y2="532.80" stroke="#888" stroke-width="1.1" stroke-dasharray="4,3"/>
<line x1="108.80" y1="555.30" x2="269.60" y2="532.00" stroke="#888" stroke-width="1.1" stroke-dasharray="4,3"/>
<line x1="108.80" y1="523.80" x2="269.60" y2="501.00" stroke="#111" stroke-width="1.25"/>
<line x1="108.80" y1="523.80" x2="269.60" y2="649.90" stroke="#111" stroke-width="1.25"/>
<line x1="108.80" y1="555.30" x2="269.60" y2="566.60" stroke="#111" stroke-width="1.25"/>
<line x1="108.80" y1="576.70" x2="269.60" y2="523.50" stroke="#111" stroke-width="1.25"/>
<line x1="108.80" y1="572.40" x2="269.60" y2="607.00" stroke="#111" stroke-width="1.25"/>
<line x1="108.80" y1="574.10" x2="269.60" y2="609.20" stroke="#111" stroke-width="1.25"/>
<line x1="99.00" y1="464.50" x2="107.60" y2="522.50" stroke="#444" stroke-width="0.9"/>
<line x1="99.00" y1="473.50" x2="107.60" y2="522.50" stroke="#444" stroke-width="0.9"/>
<line x1="99.30" y1="483.00" x2="107.60" y2="529.50" stroke="#444" stroke-width="0.9"/>
<line x1="99.30" y1="493.00" x2="107.60" y2="532.50" stroke="#444" stroke-width="0.9"/>
<line x1="99.30" y1="503.00" x2="107.60" y2="536.00" stroke="#444" stroke-width="0.9"/>
<line x1="99.00" y1="516.00" x2="107.60" y2="546.00" stroke="#444" stroke-width="0.9"/>
<line x1="99.30" y1="525.50" x2="107.60" y2="554.00" stroke="#444" stroke-width="0.9"/>
<line x1="99.00" y1="540.00" x2="107.60" y2="547.00" stroke="#444" stroke-width="0.9"/>
<line x1="99.00" y1="548.00" x2="107.60" y2="555.00" stroke="#444" stroke-width="0.9"/>
<line x1="99.50" y1="557.00" x2="107.60" y2="556.00" stroke="#444" stroke-width="0.9"/>
<line x1="99.50" y1="569.00" x2="107.60" y2="567.50" stroke="#444" stroke-width="0.9"/>
<line x1="99.00" y1="576.00" x2="107.60" y2="572.00" stroke="#444" stroke-width="0.9"/>
<line x1="99.00" y1="583.00" x2="107.60" y2="573.50" stroke="#444" stroke-width="0.9"/>
<line x1="99.00" y1="590.00" x2="107.60" y2="575.50" stroke="#444" stroke-width="0.9"/>
<line x1="99.00" y1="597.50" x2="107.60" y2="577.50" stroke="#444" stroke-width="0.9"/>
<line x1="99.00" y1="605.00" x2="107.60" y2="579.50" stroke="#444" stroke-width="0.9"/>
<line x1="99.00" y1="618.50" x2="107.60" y2="607.50" stroke="#444" stroke-width="0.9"/>
<line x1="270.80" y1="500.80" x2="279.00" y2="498.00" stroke="#222" stroke-width="1.0"/>
<line x1="270.80" y1="523.30" x2="279.00" y2="518.00" stroke="#222" stroke-width="1.0"/>
<line x1="270.80" y1="532.30" x2="279.00" y2="531.00" stroke="#222" stroke-width="1.0"/>
<line x1="270.80" y1="533.60" x2="279.00" y2="539.00" stroke="#222" stroke-width="1.0"/>
<line x1="270.80" y1="555.30" x2="279.00" y2="553.00" stroke="#222" stroke-width="1.0"/>
<line x1="270.80" y1="558.60" x2="279.00" y2="562.00" stroke="#222" stroke-width="1.0"/>
<line x1="270.80" y1="566.80" x2="279.00" y2="574.50" stroke="#222" stroke-width="1.0"/>
<line x1="270.80" y1="593.00" x2="278.50" y2="592.00" stroke="#222" stroke-width="1.0"/>
<line x1="270.80" y1="607.00" x2="279.00" y2="603.00" stroke="#222" stroke-width="1.0"/>
<line x1="270.80" y1="609.20" x2="279.00" y2="614.00" stroke="#222" stroke-width="1.0"/>
<line x1="270.80" y1="640.30" x2="279.00" y2="637.00" stroke="#222" stroke-width="1.0"/>
<line x1="270.80" y1="646.00" x2="279.00" y2="644.00" stroke="#222" stroke-width="1.0"/>
<line x1="270.80" y1="648.00" x2="279.00" y2="651.00" stroke="#222" stroke-width="1.0"/>
<line x1="270.80" y1="649.90" x2="279.00" y2="658.00" stroke="#222" stroke-width="1.0"/>
<circle cx="108.80" cy="523.80" r="2.2" fill="#000" stroke="#000" stroke-width="0.9"/>
<circle cx="108.80" cy="528.40" r="2.3" fill="#fff" stroke="#555" stroke-width="0.9"/>
<circle cx="108.80" cy="531.90" r="2.3" fill="#fff" stroke="#555" stroke-width="0.9"/>
<circle cx="108.80" cy="536.70" r="2.3" fill="#fff" stroke="#555" stroke-width="0.9"/>
<circle cx="108.80" cy="547.40" r="2.15" fill="#858585" stroke="#4a4a4a" stroke-width="0.9"/>
<circle cx="108.80" cy="555.30" r="2.2" fill="#444" stroke="#222" stroke-width="0.9"/>
<circle cx="108.80" cy="567.80" r="2.15" fill="#858585" stroke="#4a4a4a" stroke-width="0.9"/>
<circle cx="108.80" cy="572.40" r="2.2" fill="#444" stroke="#222" stroke-width="0.9"/>
<circle cx="108.80" cy="574.10" r="2.2" fill="#444" stroke="#222" stroke-width="0.9"/>
<circle cx="108.80" cy="579.60" r="2.15" fill="#858585" stroke="#4a4a4a" stroke-width="0.9"/>
<circle cx="108.80" cy="607.70" r="2.15" fill="#858585" stroke="#4a4a4a" stroke-width="0.9"/>
<circle cx="108.80" cy="634.70" r="2.15" fill="#858585" stroke="#4a4a4a" stroke-width="0.9"/>
<circle cx="108.80" cy="655.20" r="2.15" fill="#858585" stroke="#4a4a4a" stroke-width="0.9"/>
<circle cx="269.60" cy="501.00" r="2.2" fill="#000" stroke="#000" stroke-width="0.9"/>
<circle cx="269.60" cy="523.50" r="2.2" fill="#000" stroke="#000" stroke-width="0.9"/>
<circle cx="269.60" cy="532.00" r="2.3" fill="#fff" stroke="#555" stroke-width="0.9"/>
<circle cx="269.60" cy="533.60" r="2.3" fill="#fff" stroke="#555" stroke-width="0.9"/>
<circle cx="269.60" cy="555.30" r="2.3" fill="#fff" stroke="#555" stroke-width="0.9"/>
<circle cx="269.60" cy="558.60" r="2.3" fill="#fff" stroke="#555" stroke-width="0.9"/>
<circle cx="269.60" cy="566.60" r="2.2" fill="#000" stroke="#000" stroke-width="0.9"/>
<circle cx="269.60" cy="593.00" r="2.3" fill="#fff" stroke="#555" stroke-width="0.9"/>
<circle cx="269.60" cy="607.00" r="2.2" fill="#000" stroke="#000" stroke-width="0.9"/>
<circle cx="269.60" cy="609.20" r="2.2" fill="#000" stroke="#000" stroke-width="0.9"/>
<circle cx="269.60" cy="622.60" r="2.15" fill="#858585" stroke="#4a4a4a" stroke-width="0.9"/>
<circle cx="269.60" cy="640.30" r="2.15" fill="#858585" stroke="#4a4a4a" stroke-width="0.9"/>
<circle cx="269.60" cy="646.00" r="2.15" fill="#858585" stroke="#4a4a4a" stroke-width="0.9"/>
<circle cx="269.60" cy="648.00" r="2.15" fill="#858585" stroke="#4a4a4a" stroke-width="0.9"/>
<circle cx="269.60" cy="649.90" r="2.2" fill="#000" stroke="#000" stroke-width="0.9"/>
<circle cx="269.60" cy="705.60" r="2.15" fill="#858585" stroke="#4a4a4a" stroke-width="0.9"/>
<circle cx="269.60" cy="719.20" r="2.15" fill="#858585" stroke="#4a4a4a" stroke-width="0.9"/>
<circle cx="269.60" cy="759.20" r="2.15" fill="#858585" stroke="#4a4a4a" stroke-width="0.9"/>
<circle cx="269.60" cy="765.20" r="2.15" fill="#858585" stroke="#4a4a4a" stroke-width="0.9"/>
<text x="79.80" y="467.10" font-size="8.4" fill="#111" stroke="#111" stroke-width="0.25" textLength="19.51" lengthAdjust="spacingAndGlyphs">1131</text>
<text x="79.71" y="476.00" font-size="8.4" fill="#111" stroke="#111" stroke-width="0.25" textLength="19.51" lengthAdjust="spacingAndGlyphs">1150</text>
<text x="79.80" y="518.60" font-size="8.4" fill="#808080" stroke="#808080" stroke-width="0.08" textLength="19.51" lengthAdjust="spacingAndGlyphs">1169</text>
<text x="79.76" y="543.10" font-size="8.4" fill="#111" stroke="#111" stroke-width="0.25" textLength="19.51" lengthAdjust="spacingAndGlyphs">1138</text>
<text x="79.76" y="550.30" font-size="8.4" fill="#808080" stroke="#808080" stroke-width="0.08" textLength="19.51" lengthAdjust="spacingAndGlyphs">1168</text>
<text x="69.10" y="571.80" font-size="8.4" fill="#808080" stroke="#808080" stroke-width="0.08" textLength="30.27" lengthAdjust="spacingAndGlyphs">298302</text>
<text x="80.44" y="578.50" font-size="8.4" fill="#111" stroke="#111" stroke-width="0.25" textLength="18.84" lengthAdjust="spacingAndGlyphs">1115</text>
<text x="79.76" y="585.40" font-size="8.4" fill="#808080" stroke="#808080" stroke-width="0.08" textLength="19.51" lengthAdjust="spacingAndGlyphs">1155</text>
<text x="79.76" y="593.00" font-size="8.4" fill="#111" stroke="#111" stroke-width="0.25" textLength="19.51" lengthAdjust="spacingAndGlyphs">1148</text>
<text x="79.67" y="601.00" font-size="8.4" fill="#111" stroke="#111" stroke-width="0.25" textLength="19.51" lengthAdjust="spacingAndGlyphs">1144</text>
<text x="79.71" y="607.80" font-size="8.4" fill="#808080" stroke="#808080" stroke-width="0.08" textLength="19.51" lengthAdjust="spacingAndGlyphs">1160</text>
<text x="79.80" y="621.20" font-size="8.4" fill="#808080" stroke="#808080" stroke-width="0.08" textLength="19.51" lengthAdjust="spacingAndGlyphs">1161</text>
<text x="69.01" y="636.20" font-size="8.4" fill="#808080" stroke="#808080" stroke-width="0.08" textLength="30.27" lengthAdjust="spacingAndGlyphs">282286</text>
<text x="79.76" y="656.10" font-size="8.4" fill="#808080" stroke="#808080" stroke-width="0.08" textLength="19.51" lengthAdjust="spacingAndGlyphs">1158</text>
<rect x="79.2" y="478.2" width="19.9" height="29.7" fill="#7a7a7a"/>
<text x="79.63" y="485.80" font-size="8.9" fill="#fafafa" stroke="#fafafa" stroke-width="0.2" textLength="19.14" lengthAdjust="spacingAndGlyphs">1109</text>
<text x="79.63" y="495.80" font-size="8.9" fill="#fafafa" stroke="#fafafa" stroke-width="0.2" textLength="18.48" lengthAdjust="spacingAndGlyphs">1110</text>
<text x="79.63" y="505.60" font-size="8.9" fill="#fafafa" stroke="#fafafa" stroke-width="0.2" textLength="18.48" lengthAdjust="spacingAndGlyphs">1112</text>
<rect x="79.20" y="520.50" width="19.90" height="8.70" fill="#7a7a7a"/>
<text x="79.63" y="527.91" font-size="8.9" fill="#fafafa" stroke="#fafafa" stroke-width="0.2" textLength="17.82" lengthAdjust="spacingAndGlyphs">1111</text>
<rect x="80.30" y="551.50" width="19.20" height="10.30" fill="#7a7a7a"/>
<text x="80.73" y="559.71" font-size="8.9" fill="#fafafa" stroke="#fafafa" stroke-width="0.2" textLength="19.14" lengthAdjust="spacingAndGlyphs">1106</text>
<text x="278.93" y="500.60" font-size="9.0" fill="#111" stroke="#111" stroke-width="0.25" textLength="19.35" lengthAdjust="spacingAndGlyphs">1150</text>
<text x="278.93" y="520.80" font-size="9.0" fill="#111" stroke="#111" stroke-width="0.25" textLength="19.35" lengthAdjust="spacingAndGlyphs">1144</text>
<text x="278.93" y="577.30" font-size="9.0" fill="#111" stroke="#111" stroke-width="0.25" textLength="19.35" lengthAdjust="spacingAndGlyphs">1138</text>
<text x="278.93" y="605.50" font-size="9.0" fill="#111" stroke="#111" stroke-width="0.25" textLength="18.69" lengthAdjust="spacingAndGlyphs">1115</text>
<text x="278.93" y="613.80" font-size="9.0" fill="#111" stroke="#111" stroke-width="0.25" textLength="19.35" lengthAdjust="spacingAndGlyphs">1148</text>
<text x="278.93" y="626.80" font-size="9.0" fill="#808080" stroke="#808080" stroke-width="0.08" textLength="19.35" lengthAdjust="spacingAndGlyphs">1169</text>
<text x="278.93" y="639.60" font-size="9.0" fill="#808080" stroke="#808080" stroke-width="0.08" textLength="19.35" lengthAdjust="spacingAndGlyphs">1161</text>
<text x="278.93" y="646.50" font-size="9.0" fill="#808080" stroke="#808080" stroke-width="0.08" textLength="19.35" lengthAdjust="spacingAndGlyphs">1168</text>
<text x="278.93" y="653.40" font-size="9.0" fill="#808080" stroke="#808080" stroke-width="0.08" textLength="19.35" lengthAdjust="spacingAndGlyphs">1155</text>
<text x="278.93" y="660.90" font-size="9.0" fill="#111" stroke="#111" stroke-width="0.25" textLength="19.35" lengthAdjust="spacingAndGlyphs">1131</text>
<text x="277.72" y="709.60" font-size="9.0" fill="#808080" stroke="#808080" stroke-width="0.08" textLength="19.35" lengthAdjust="spacingAndGlyphs">1160</text>
<text x="272.15" y="723.30" font-size="9.0" fill="#808080" stroke="#808080" stroke-width="0.08" textLength="30.03" lengthAdjust="spacingAndGlyphs">282286</text>
<text x="276.72" y="762.10" font-size="9.0" fill="#808080" stroke="#808080" stroke-width="0.08" textLength="19.35" lengthAdjust="spacingAndGlyphs">1158</text>
<text x="273.25" y="771.80" font-size="9.0" fill="#808080" stroke="#808080" stroke-width="0.08" textLength="30.03" lengthAdjust="spacingAndGlyphs">298302</text>
<rect x="279.2" y="524.6" width="19.6" height="18.6" fill="#7a7a7a"/>
<rect x="279.2" y="547.4" width="19.6" height="19.2" fill="#7a7a7a"/>
<text x="279.63" y="532.90" font-size="8.9" fill="#fafafa" stroke="#fafafa" stroke-width="0.2" textLength="19.14" lengthAdjust="spacingAndGlyphs">1106</text>
<text x="279.63" y="541.80" font-size="8.9" fill="#fafafa" stroke="#fafafa" stroke-width="0.2" textLength="17.82" lengthAdjust="spacingAndGlyphs">1111</text>
<text x="279.63" y="556.00" font-size="8.9" fill="#fafafa" stroke="#fafafa" stroke-width="0.2" textLength="19.14" lengthAdjust="spacingAndGlyphs">1109</text>
<text x="279.63" y="565.00" font-size="8.9" fill="#fafafa" stroke="#fafafa" stroke-width="0.2" textLength="18.48" lengthAdjust="spacingAndGlyphs">1110</text>
<rect x="278.80" y="586.40" width="19.70" height="9.20" fill="#7a7a7a"/>
<text x="279.23" y="594.06" font-size="8.9" fill="#fafafa" stroke="#fafafa" stroke-width="0.2" textLength="18.48" lengthAdjust="spacingAndGlyphs">1112</text>
<text x="360.08" y="443.00" font-size="19" fill="#000" stroke="#000" stroke-width="0.3" font-weight="bold" textLength="11.01" lengthAdjust="spacingAndGlyphs">d</text>
<rect x="398.50" y="444.80" width="284.90" height="352.60" fill="none" stroke="#707070" stroke-width="1.2"/>
<line x1="394.20" y1="551.00" x2="398.50" y2="551.00" stroke="#444" stroke-width="1.0"/>
<text x="371.31" y="554.80" font-size="10.4" fill="#111" stroke="#111" stroke-width="0.3" textLength="17.70" lengthAdjust="spacingAndGlyphs">100</text>
<line x1="394.20" y1="618.50" x2="398.50" y2="618.50" stroke="#444" stroke-width="1.0"/>
<text x="377.20" y="622.30" font-size="10.4" fill="#111" stroke="#111" stroke-width="0.3" textLength="11.80" lengthAdjust="spacingAndGlyphs">90</text>
<line x1="394.20" y1="686.00" x2="398.50" y2="686.00" stroke="#444" stroke-width="1.0"/>
<text x="377.20" y="689.80" font-size="10.4" fill="#111" stroke="#111" stroke-width="0.3" textLength="11.80" lengthAdjust="spacingAndGlyphs">80</text>
<line x1="394.20" y1="753.50" x2="398.50" y2="753.50" stroke="#444" stroke-width="1.0"/>
<text x="377.20" y="757.30" font-size="10.4" fill="#111" stroke="#111" stroke-width="0.3" textLength="11.80" lengthAdjust="spacingAndGlyphs">70</text>
<text transform="translate(359.2,598.0) rotate(-90)" text-anchor="middle" font-size="11.4" fill="#111" stroke="#111" stroke-width="0.25">Growth Index (%)</text>
<text x="421.46" y="470.80" font-size="9.3" fill="#111" stroke="#111" stroke-width="0.15" textLength="63.24" lengthAdjust="spacingAndGlyphs">P.Val &lt; 0.0001</text>
<circle cx="487.60" cy="465.60" r="1.25" fill="#111"/>
<circle cx="491.30" cy="465.60" r="1.25" fill="#111"/>
<circle cx="494.90" cy="465.60" r="1.25" fill="#111"/>
<text x="602.26" y="470.70" font-size="9.3" fill="#111" stroke="#111" stroke-width="0.15" textLength="62.01" lengthAdjust="spacingAndGlyphs">P.val = 0.0135</text>
<circle cx="666.40" cy="465.50" r="1.25" fill="#111"/>
<text x="453.19" y="819.10" font-size="11.3" fill="#111" stroke="#111" stroke-width="0.3" textLength="25.01" lengthAdjust="spacingAndGlyphs">2003</text>
<text x="611.90" y="818.80" font-size="11.3" fill="#111" stroke="#111" stroke-width="0.3" textLength="24.68" lengthAdjust="spacingAndGlyphs">2004</text>
<text x="541.67" y="832.20" font-size="11.3" fill="#111" stroke="#111" stroke-width="0.3" textLength="22.66" lengthAdjust="spacingAndGlyphs">Year</text>
<line x1="404.10" y1="700.90" x2="404.10" y2="772.40" stroke="#555" stroke-width="1.2"/>
<line x1="409.70" y1="600.30" x2="409.70" y2="708.80" stroke="#666" stroke-width="1.2"/>
<line x1="415.00" y1="579.00" x2="415.00" y2="661.30" stroke="#777" stroke-width="1.2"/>
<line x1="420.30" y1="557.80" x2="420.30" y2="636.30" stroke="#777" stroke-width="1.2"/>
<line x1="425.90" y1="493.20" x2="425.90" y2="565.40" stroke="#666" stroke-width="1.2"/>
<line x1="655.60" y1="501.00" x2="655.60" y2="615.50" stroke="#333" stroke-width="1.2"/>
<line x1="660.90" y1="536.40" x2="660.90" y2="657.70" stroke="#7a7a7a" stroke-width="1.2"/>
<line x1="667.00" y1="565.00" x2="667.00" y2="679.20" stroke="#7a7a7a" stroke-width="1.2"/>
<line x1="672.00" y1="607.20" x2="672.00" y2="714.70" stroke="#7a7a7a" stroke-width="1.2"/>
<line x1="464.20" y1="591.00" x2="622.20" y2="586.50" stroke="#888" stroke-width="1.1"/>
<line x1="464.20" y1="613.90" x2="622.20" y2="613.60" stroke="#888" stroke-width="1.1"/>
<line x1="464.20" y1="634.80" x2="622.20" y2="611.80" stroke="#999" stroke-width="1.1"/>
<line x1="464.20" y1="631.70" x2="622.20" y2="646.20" stroke="#666" stroke-width="1.1"/>
<line x1="464.20" y1="706.20" x2="622.20" y2="651.50" stroke="#888" stroke-width="1.1"/>
<line x1="464.20" y1="765.10" x2="622.20" y2="672.20" stroke="#888" stroke-width="1.1"/>
<line x1="464.20" y1="503.50" x2="622.20" y2="708.60" stroke="#888" stroke-width="1.1" stroke-dasharray="4,3"/>
<line x1="464.20" y1="560.50" x2="622.20" y2="622.10" stroke="#888" stroke-width="1.1" stroke-dasharray="4,3"/>
<line x1="464.20" y1="659.20" x2="622.20" y2="503.60" stroke="#111" stroke-width="1.25"/>
<line x1="464.20" y1="652.50" x2="622.20" y2="541.20" stroke="#111" stroke-width="1.25"/>
<line x1="464.20" y1="629.20" x2="622.20" y2="546.80" stroke="#111" stroke-width="1.25"/>
<line x1="464.20" y1="601.50" x2="622.20" y2="568.50" stroke="#111" stroke-width="1.25"/>
<line x1="464.20" y1="603.50" x2="622.20" y2="570.30" stroke="#111" stroke-width="1.25"/>
<line x1="464.20" y1="605.50" x2="622.20" y2="582.10" stroke="#111" stroke-width="1.25"/>
<line x1="464.20" y1="608.00" x2="622.20" y2="586.50" stroke="#111" stroke-width="1.25"/>
<line x1="464.20" y1="610.50" x2="622.20" y2="591.00" stroke="#111" stroke-width="1.25"/>
<line x1="451.50" y1="582.00" x2="463.00" y2="590.00" stroke="#333" stroke-width="0.95"/>
<line x1="451.50" y1="593.50" x2="463.00" y2="602.00" stroke="#333" stroke-width="0.95"/>
<line x1="451.50" y1="601.00" x2="463.00" y2="603.50" stroke="#333" stroke-width="0.95"/>
<line x1="451.50" y1="609.00" x2="463.00" y2="605.50" stroke="#333" stroke-width="0.95"/>
<line x1="451.50" y1="617.00" x2="463.00" y2="607.50" stroke="#333" stroke-width="0.95"/>
<line x1="451.50" y1="624.50" x2="463.00" y2="609.50" stroke="#333" stroke-width="0.95"/>
<line x1="451.50" y1="632.00" x2="463.00" y2="613.50" stroke="#333" stroke-width="0.95"/>
<line x1="451.50" y1="646.50" x2="463.00" y2="629.50" stroke="#333" stroke-width="0.95"/>
<line x1="451.50" y1="654.50" x2="463.00" y2="631.50" stroke="#333" stroke-width="0.95"/>
<line x1="451.50" y1="662.50" x2="463.00" y2="634.50" stroke="#333" stroke-width="0.95"/>
<line x1="451.50" y1="677.00" x2="463.00" y2="652.50" stroke="#333" stroke-width="0.95"/>
<line x1="451.50" y1="686.50" x2="463.00" y2="659.00" stroke="#333" stroke-width="0.95"/>
<line x1="623.40" y1="568.50" x2="634.10" y2="559.80" stroke="#222" stroke-width="1.0"/>
<line x1="623.40" y1="570.00" x2="632.90" y2="567.80" stroke="#222" stroke-width="1.0"/>
<line x1="623.40" y1="582.10" x2="633.50" y2="579.00" stroke="#222" stroke-width="1.0"/>
<line x1="623.40" y1="586.50" x2="633.50" y2="588.30" stroke="#222" stroke-width="1.0"/>
<line x1="623.40" y1="591.00" x2="632.90" y2="598.90" stroke="#222" stroke-width="1.0"/>
<line x1="623.40" y1="592.00" x2="634.10" y2="609.40" stroke="#222" stroke-width="1.0"/>
<line x1="623.40" y1="611.80" x2="633.50" y2="614.30" stroke="#222" stroke-width="1.0"/>
<line x1="623.40" y1="613.60" x2="633.50" y2="622.30" stroke="#222" stroke-width="1.0"/>
<line x1="623.40" y1="622.10" x2="633.50" y2="633.00" stroke="#222" stroke-width="1.0"/>
<line x1="623.40" y1="646.20" x2="633.50" y2="648.50" stroke="#222" stroke-width="1.0"/>
<line x1="623.40" y1="651.50" x2="633.50" y2="656.50" stroke="#222" stroke-width="1.0"/>
<circle cx="464.20" cy="503.50" r="1.9" fill="#fff" stroke="#555" stroke-width="0.9"/>
<circle cx="464.20" cy="560.50" r="1.9" fill="#fff" stroke="#555" stroke-width="0.9"/>
<circle cx="464.20" cy="591.00" r="2.15" fill="#858585" stroke="#4a4a4a" stroke-width="0.9"/>
<circle cx="464.20" cy="602.00" r="2.2" fill="#000" stroke="#000" stroke-width="0.9"/>
<circle cx="464.20" cy="604.00" r="2.2" fill="#000" stroke="#000" stroke-width="0.9"/>
<circle cx="464.20" cy="606.00" r="2.2" fill="#000" stroke="#000" stroke-width="0.9"/>
<circle cx="464.20" cy="608.00" r="2.2" fill="#000" stroke="#000" stroke-width="0.9"/>
<circle cx="464.20" cy="610.30" r="2.2" fill="#000" stroke="#000" stroke-width="0.9"/>
<circle cx="464.20" cy="613.90" r="2.15" fill="#858585" stroke="#4a4a4a" stroke-width="0.9"/>
<circle cx="464.20" cy="629.20" r="2.2" fill="#444" stroke="#222" stroke-width="0.9"/>
<circle cx="464.20" cy="631.70" r="2.15" fill="#858585" stroke="#4a4a4a" stroke-width="0.9"/>
<circle cx="464.20" cy="634.80" r="2.15" fill="#858585" stroke="#4a4a4a" stroke-width="0.9"/>
<circle cx="464.20" cy="652.50" r="2.2" fill="#000" stroke="#000" stroke-width="0.9"/>
<circle cx="464.20" cy="659.20" r="2.2" fill="#000" stroke="#000" stroke-width="0.9"/>
<circle cx="464.20" cy="706.20" r="2.15" fill="#858585" stroke="#4a4a4a" stroke-width="0.9"/>
<circle cx="464.20" cy="765.10" r="2.15" fill="#858585" stroke="#4a4a4a" stroke-width="0.9"/>
<circle cx="622.20" cy="503.60" r="2.2" fill="#000" stroke="#000" stroke-width="0.9"/>
<circle cx="622.20" cy="541.20" r="2.2" fill="#000" stroke="#000" stroke-width="0.9"/>
<circle cx="622.20" cy="546.80" r="2.2" fill="#000" stroke="#000" stroke-width="0.9"/>
<circle cx="622.20" cy="568.50" r="2.2" fill="#000" stroke="#000" stroke-width="0.9"/>
<circle cx="622.20" cy="570.30" r="2.2" fill="#000" stroke="#000" stroke-width="0.9"/>
<circle cx="622.20" cy="582.10" r="2.2" fill="#000" stroke="#000" stroke-width="0.9"/>
<circle cx="622.20" cy="586.50" r="2.15" fill="#858585" stroke="#4a4a4a" stroke-width="0.9"/>
<circle cx="622.20" cy="591.00" r="2.2" fill="#000" stroke="#000" stroke-width="0.9"/>
<circle cx="622.20" cy="611.80" r="2.15" fill="#858585" stroke="#4a4a4a" stroke-width="0.9"/>
<circle cx="622.20" cy="613.60" r="2.15" fill="#858585" stroke="#4a4a4a" stroke-width="0.9"/>
<circle cx="622.20" cy="622.10" r="1.9" fill="#fff" stroke="#555" stroke-width="0.9"/>
<circle cx="622.20" cy="646.20" r="2.15" fill="#858585" stroke="#4a4a4a" stroke-width="0.9"/>
<circle cx="622.20" cy="651.50" r="2.15" fill="#858585" stroke="#4a4a4a" stroke-width="0.9"/>
<circle cx="622.20" cy="672.20" r="2.15" fill="#858585" stroke="#4a4a4a" stroke-width="0.9"/>
<circle cx="622.20" cy="708.60" r="1.9" fill="#fff" stroke="#555" stroke-width="0.9"/>
<text x="431.49" y="584.90" font-size="8.3" fill="#808080" stroke="#808080" stroke-width="0.08" textLength="19.28" lengthAdjust="spacingAndGlyphs">1155</text>
<text x="432.16" y="596.70" font-size="8.3" fill="#111" stroke="#111" stroke-width="0.25" textLength="18.61" lengthAdjust="spacingAndGlyphs">1115</text>
<text x="431.53" y="604.50" font-size="8.3" fill="#111" stroke="#111" stroke-width="0.25" textLength="19.28" lengthAdjust="spacingAndGlyphs">1131</text>
<text x="431.49" y="612.40" font-size="8.3" fill="#111" stroke="#111" stroke-width="0.25" textLength="19.28" lengthAdjust="spacingAndGlyphs">1138</text>
<text x="431.58" y="620.10" font-size="8.3" fill="#111" stroke="#111" stroke-width="0.25" textLength="19.28" lengthAdjust="spacingAndGlyphs">1132</text>
<text x="430.86" y="627.70" font-size="8.3" fill="#111" stroke="#111" stroke-width="0.25" textLength="19.94" lengthAdjust="spacingAndGlyphs">1099</text>
<text x="431.49" y="635.70" font-size="8.3" fill="#808080" stroke="#808080" stroke-width="0.08" textLength="19.28" lengthAdjust="spacingAndGlyphs">1168</text>
<text x="431.40" y="649.60" font-size="8.3" fill="#111" stroke="#111" stroke-width="0.25" textLength="19.28" lengthAdjust="spacingAndGlyphs">1144</text>
<text x="431.53" y="657.70" font-size="8.3" fill="#808080" stroke="#808080" stroke-width="0.08" textLength="19.28" lengthAdjust="spacingAndGlyphs">1169</text>
<text x="431.49" y="665.70" font-size="8.3" fill="#808080" stroke="#808080" stroke-width="0.08" textLength="19.28" lengthAdjust="spacingAndGlyphs">1158</text>
<text x="431.49" y="680.10" font-size="8.3" fill="#111" stroke="#111" stroke-width="0.25" textLength="19.28" lengthAdjust="spacingAndGlyphs">1148</text>
<text x="431.44" y="689.70" font-size="8.3" fill="#111" stroke="#111" stroke-width="0.25" textLength="19.28" lengthAdjust="spacingAndGlyphs">1150</text>
<text x="431.44" y="709.70" font-size="8.3" fill="#808080" stroke="#808080" stroke-width="0.08" textLength="19.28" lengthAdjust="spacingAndGlyphs">1160</text>
<text x="431.53" y="770.40" font-size="8.3" fill="#808080" stroke="#808080" stroke-width="0.08" textLength="19.28" lengthAdjust="spacingAndGlyphs">1161</text>
<rect x="431.50" y="497.00" width="19.30" height="10.60" fill="#7a7a7a"/>
<text x="431.93" y="505.36" font-size="8.9" fill="#fafafa" stroke="#fafafa" stroke-width="0.2" textLength="19.14" lengthAdjust="spacingAndGlyphs">1106</text>
<rect x="431.50" y="554.00" width="19.30" height="10.50" fill="#7a7a7a"/>
<text x="431.93" y="562.31" font-size="8.9" fill="#fafafa" stroke="#fafafa" stroke-width="0.2" textLength="19.80" lengthAdjust="spacingAndGlyphs">1055</text>
<text x="634.34" y="502.10" font-size="8.2" fill="#111" stroke="#111" stroke-width="0.25" textLength="18.87" lengthAdjust="spacingAndGlyphs">1150</text>
<text x="634.34" y="539.90" font-size="8.2" fill="#111" stroke="#111" stroke-width="0.25" textLength="18.87" lengthAdjust="spacingAndGlyphs">1148</text>
<text x="634.34" y="548.00" font-size="8.2" fill="#111" stroke="#111" stroke-width="0.25" textLength="18.87" lengthAdjust="spacingAndGlyphs">1144</text>
<text x="634.34" y="562.90" font-size="8.2" fill="#111" stroke="#111" stroke-width="0.25" textLength="18.87" lengthAdjust="spacingAndGlyphs">1131</text>
<text x="634.34" y="571.00" font-size="8.2" fill="#111" stroke="#111" stroke-width="0.25" textLength="18.22" lengthAdjust="spacingAndGlyphs">1115</text>
<text x="634.34" y="581.90" font-size="8.2" fill="#111" stroke="#111" stroke-width="0.25" textLength="18.87" lengthAdjust="spacingAndGlyphs">1132</text>
<text x="634.34" y="589.60" font-size="8.2" fill="#111" stroke="#111" stroke-width="0.25" textLength="19.52" lengthAdjust="spacingAndGlyphs">1099</text>
<text x="634.34" y="595.80" font-size="8.2" fill="#808080" stroke="#808080" stroke-width="0.08" textLength="18.87" lengthAdjust="spacingAndGlyphs">1155</text>
<text x="634.34" y="603.80" font-size="8.2" fill="#111" stroke="#111" stroke-width="0.25" textLength="18.87" lengthAdjust="spacingAndGlyphs">1138</text>
<text x="634.34" y="616.10" font-size="8.2" fill="#808080" stroke="#808080" stroke-width="0.08" textLength="18.87" lengthAdjust="spacingAndGlyphs">1158</text>
<text x="634.34" y="624.20" font-size="8.2" fill="#808080" stroke="#808080" stroke-width="0.08" textLength="18.87" lengthAdjust="spacingAndGlyphs">1168</text>
<text x="634.34" y="650.30" font-size="8.2" fill="#808080" stroke="#808080" stroke-width="0.08" textLength="18.87" lengthAdjust="spacingAndGlyphs">1169</text>
<text x="634.34" y="659.00" font-size="8.2" fill="#808080" stroke="#808080" stroke-width="0.08" textLength="18.87" lengthAdjust="spacingAndGlyphs">1160</text>
<text x="634.34" y="676.30" font-size="8.2" fill="#808080" stroke="#808080" stroke-width="0.08" textLength="18.87" lengthAdjust="spacingAndGlyphs">1161</text>
<rect x="634.10" y="628.30" width="19.30" height="9.50" fill="#7a7a7a"/>
<text x="634.53" y="636.11" font-size="8.9" fill="#fafafa" stroke="#fafafa" stroke-width="0.2" textLength="19.80" lengthAdjust="spacingAndGlyphs">1055</text>
<rect x="633.90" y="707.30" width="19.30" height="9.30" fill="#7a7a7a"/>
<text x="634.33" y="715.01" font-size="8.9" fill="#fafafa" stroke="#fafafa" stroke-width="0.2" textLength="19.14" lengthAdjust="spacingAndGlyphs">1106</text>
</svg>
</body></html>
